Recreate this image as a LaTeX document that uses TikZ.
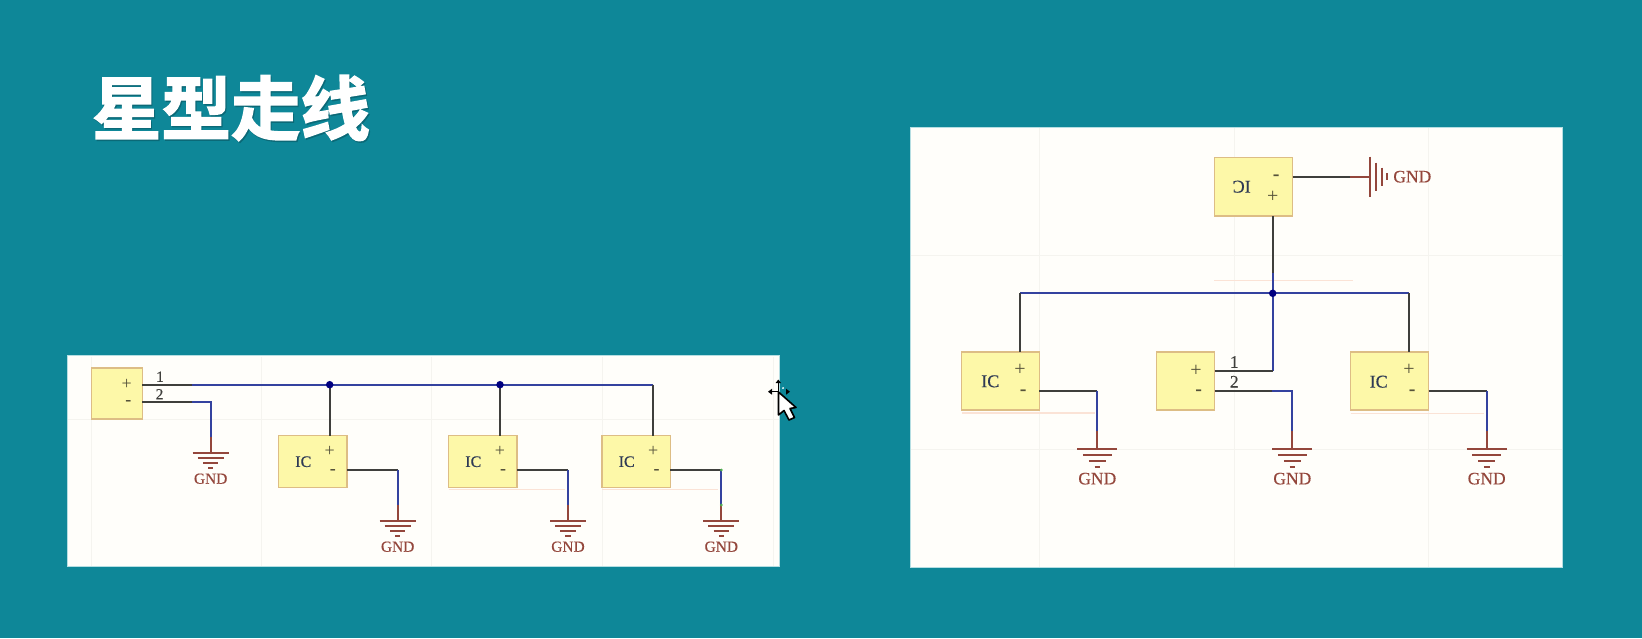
\documentclass[tikz,border=0pt]{standalone}
\usepackage{fontspec}
\setmainfont{Liberation Serif}
\newfontfamily\cjktitle[FakeBold=2.2]{Noto Sans CJK SC Bold}
\newfontfamily\heavyserif[FakeBold=0.35]{Liberation Serif}
\definecolor{bgteal}{HTML}{0E8798}
\definecolor{panel}{HTML}{FFFEFA}
\definecolor{panedge}{HTML}{B5DEE2}
\definecolor{gridc}{HTML}{F5F4EF}
\definecolor{boxfill}{HTML}{FDF8A8}
\definecolor{boxline}{HTML}{DDBD85}
\definecolor{wireb}{HTML}{3F3F3C}
\definecolor{wirev}{HTML}{34429F}
\definecolor{gndred}{HTML}{94473C}
\definecolor{navyj}{HTML}{000080}
\definecolor{pinkl}{HTML}{FBE3D6}
\definecolor{labelc}{HTML}{2E3A55}
\definecolor{pinc}{HTML}{55523A}
\definecolor{dotg}{HTML}{4FB04F}
\tikzset{
  panelbox/.style={fill=panel,draw=panedge,line width=.6pt},
  icbox/.style={draw=boxline,fill=boxfill,line width=1.3pt,anchor=north west,inner sep=0pt,outer sep=0pt},
  blk/.style={draw=wireb,line width=2.1pt,line cap=butt,line join=miter},
  blu/.style={draw=wirev,line width=2.1pt,line cap=butt,line join=miter},
  red/.style={draw=gndred,line width=2.1pt,line cap=butt},
  bar/.style={draw=gndred,line width=2pt},
  gridl/.style={draw=gridc,line width=.8pt},
  pinkrule/.style={draw=pinkl,line width=1.3pt},
  junction/.style={circle,fill=navyj,inner sep=0pt,minimum size=7.5pt},
  iclabel/.style={text=labelc,font=\heavyserif\fontsize{16}{16}\selectfont,inner sep=0pt},
  iclabelb/.style={text=labelc,font=\heavyserif\fontsize{18}{18}\selectfont,inner sep=0pt},
  pinp/.style={text=pinc,font=\fontsize{18}{18}\selectfont,inner sep=0pt},
  pinn/.style={text=pinc,font=\bfseries\fontsize{18}{18}\selectfont,inner sep=0pt},
  pinpb/.style={text=pinc,font=\fontsize{20}{20}\selectfont,inner sep=0pt},
  pinnb/.style={text=pinc,font=\bfseries\fontsize{20}{20}\selectfont,inner sep=0pt},
  numl/.style={text=wireb,font=\heavyserif\fontsize{15.5}{15.5}\selectfont,inner sep=0pt},
  numlb/.style={text=wireb,font=\heavyserif\fontsize{17.5}{17.5}\selectfont,inner sep=0pt},
  gndtxt/.style={text=gndred,inner sep=0pt},
}
% name, x, y of top bar, width, offsets scale, font size
\newcommand{\gndsym}[6]{%
  \coordinate (#1) at (#2,#3);
  \draw[bar] (#2-#4*.5,#3) -- (#2+#4*.5,#3);
  \draw[bar] (#2-#4*.36,#3+5.4*#5) -- (#2+#4*.36,#3+5.4*#5);
  \draw[bar] (#2-#4*.21,#3+10.6*#5) -- (#2+#4*.21,#3+10.6*#5);
  \draw[bar] (#2-#4*.07,#3+15.6*#5) -- (#2+#4*.07,#3+15.6*#5);
  \node[gndtxt,font=\heavyserif\fontsize{#6}{#6}\selectfont] (#1t) at (#2,#3+26*#5) {GND};
}
\begin{document}
\begin{tikzpicture}[x=1pt,y=-1pt]
\fill[bgteal] (0,0) rectangle (1642,638);
\useasboundingbox (0,0) rectangle (1642,638);

% title
\node[text=black!22!bgteal,inner sep=0pt,font=\cjktitle\fontsize{69.5}{70}\selectfont] (titleshadow) at (232.2,109.5) {星型走线};
\node[text=white,inner sep=0pt,font=\cjktitle\fontsize{69.5}{70}\selectfont] (title) at (231,108) {星型走线};

% panels
\path[panelbox] (67.3,355.7) rectangle (779.6,566);
\path[panelbox] (910,127.3) rectangle (1562.6,567);

% grids
\foreach \x in {91.7,261.3,431.7,602.3,773} \draw[gridl] (\x,356.5) -- (\x,565.5);
\draw[gridl] (68,419) -- (779,419);
\foreach \x in {1039.3,1234,1428.7} \draw[gridl] (\x,128) -- (\x,566.5);
\foreach \y in {255,449} \draw[gridl] (910.5,\y) -- (1562,\y);

% pink rules
\draw[pinkrule] (448.7,489.3) -- (565,489.3);
\draw[pinkrule] (602,489.3) -- (718,489.3);
\draw[pinkrule] (1214.3,280.7) -- (1352.7,280.7);
\draw[pinkrule] (961.7,413) -- (1095,413);
\draw[pinkrule] (1350.7,413.3) -- (1484,413.3);

%%% LEFT PANEL
\node[icbox,minimum width=50.6pt,minimum height=51pt] (lsrc) at (91.7,368) {};
\node[icbox,minimum width=68.3pt,minimum height=51.6pt] (lic1) at (278.7,435.7) {};
\node[icbox,minimum width=68.3pt,minimum height=51.6pt] (lic2) at (448.7,435.7) {};
\node[icbox,minimum width=68.3pt,minimum height=51.6pt] (lic3) at (602,435.7) {};

\node[pinp] (lsrcp) at (126.7,384.7) {+};
\node[pinn] (lsrcm) at (128.3,403) {-};
\node[numl] (ln1) at (160,376.7) {1};
\node[numl] (ln2) at (159.5,394.2) {2};
\foreach \n/\lx/\px in {lic1/303.3/329.7,lic2/473.3/500,lic3/626.7/653.3}{
  \node[iclabel] (\n l) at (\lx,461.7) {IC};
  \node[pinp] (\n p) at (\px,451.7) {+};
  \node[pinn] (\n m) at (\px+3.2,471.5) {-};
}

\gndsym{lg0}{210.7}{452.7}{36}{1}{15.4}
\gndsym{lg1}{397.7}{520.7}{36}{1}{15.4}
\gndsym{lg2}{568}{520.7}{36}{1}{15.4}
\gndsym{lg3}{721.3}{520.7}{36}{1}{15.4}

\coordinate (lj1) at (329.7,384.7);
\coordinate (lj2) at (500,384.7);
\coordinate (lk0) at (192.3,384.7);
\coordinate (lk3) at (653.3,384.7);
\coordinate (lm0) at (192.3,402.3);
\coordinate (lc0) at (210.7,402.3);
\coordinate (lr0) at (210.7,436.7);

% top bus
\draw[blk] (lsrc.east |- lk0) -- (lk0);
\draw[blu] (lk0) -- (lk3);
\draw[blk] (lk3) -- (lk3 |- lic3.north);
\draw[blk] (lj1) -- (lj1 |- lic1.north);
\draw[blk] (lj2) -- (lj2 |- lic2.north);
\node[junction] (lj1n) at (lj1) {};
\node[junction] (lj2n) at (lj2) {};
% source return
\draw[blk] (lsrc.east |- lm0) -- (lm0);
\draw[blu] (lm0) -- (lc0) -- (lr0);
\draw[red] (lr0) -- (lg0);
% IC returns
\foreach \n/\g in {lic1/lg1,lic2/lg2,lic3/lg3}{
  \coordinate (\n c) at (\g |- 0,470);
  \coordinate (\n r) at (\g |- 0,505);
  \draw[blk] (\n.east |- \n c) -- (\n c);
  \draw[blu] (\n c) -- (\n r);
  \draw[red] (\n r) -- (\g);
}
\fill[dotg] (lic3c) circle (1.5pt);
\fill[dotg] (lic3r) circle (1.5pt);

% cursor
\draw[black,line width=1.6pt,line join=round,fill=white]
  (778.5,392) -- (778.5,415) -- (784,410.5) -- (789,420) -- (794.5,417.5) -- (790,408.5) -- (796,407.5) -- cycle;
\fill[black] (778.3,379.5) -- (781,383) -- (775.6,383) -- cycle;
\fill[black] (768,391.7) -- (772,388.7) -- (772,394.7) -- cycle;
\fill[black] (790,391.7) -- (786,388.7) -- (786,394.7) -- cycle;
\draw[black,line width=1pt] (771,391.7) -- (778,391.7);
\draw[black,line width=1pt] (778.3,383) -- (778.3,392);
\fill[white] (783,388) circle (1pt);

%%% RIGHT PANEL
\node[icbox,minimum width=78.4pt,minimum height=58.7pt] (rtop) at (1214.3,157.3) {};
\node[icbox,minimum width=77.6pt,minimum height=58pt] (ric1) at (961.7,352) {};
\node[icbox,minimum width=58.4pt,minimum height=58pt] (rsrc) at (1156.3,352) {};
\node[icbox,minimum width=78pt,minimum height=58pt] (ric3) at (1350.7,352) {};

\node[iclabelb,rotate=180] (rtopl) at (1241.7,186.7) {IC};
\node[pinnb] (rtopm) at (1276.3,177.5) {-};
\node[pinpb] (rtopp) at (1272.7,196.7) {+};

\node[iclabelb] (ric1l) at (990.3,381.3) {IC};
\node[pinpb] (ric1p) at (1020,369.7) {+};
\node[pinnb] (ric1m) at (1023.3,392.5) {-};
\node[pinpb] (rsrcp) at (1196,371.3) {+};
\node[pinnb] (rsrcm) at (1198.7,392.5) {-};
\node[numlb] (rn1) at (1234.3,362) {1};
\node[numlb] (rn2) at (1234.3,381.7) {2};
\node[iclabelb] (ric3l) at (1378.7,381.7) {IC};
\node[pinpb] (ric3p) at (1409,370) {+};
\node[pinnb] (ric3m) at (1412.3,392.3) {-};

\gndsym{rg1}{1097.3}{449}{40}{1.14}{17.5}
\gndsym{rg2}{1292.3}{449}{40}{1.14}{17.5}
\gndsym{rg3}{1486.7}{449}{40}{1.14}{17.5}

% top symbol GND (horizontal)
\coordinate (rg0) at (1370,176.7);
\draw[bar] (1370,156.7) -- (1370,196.7);
\draw[bar] (1376,162.7) -- (1376,190.7);
\draw[bar] (1381.5,167.7) -- (1381.5,186);
\draw[bar] (1387,173.3) -- (1387,180);
\node[gndtxt,font=\heavyserif\fontsize{17.5}{17.5}\selectfont] (rg0t) at (1412.3,176.7) {GND};
\coordinate (rw0) at (1350,176.7);
\draw[blk] (rtop.east |- rw0) -- (rw0);
\draw[red] (rw0) -- (rg0);

% star
\coordinate (rj) at (1272.7,293.3);
\coordinate (rv) at (1272.7,273.3);
\coordinate (rcl) at (1020,293.3);
\coordinate (rcr) at (1408.7,293.3);
\coordinate (rs1) at (1272.7,371);
\draw[blk] (rv |- rtop.south) -- (rv);
\draw[blu] (rv) -- (rs1);
\draw[blu] (rcl) -- (rcr);
\draw[blk] (rcl) -- (rcl |- ric1.north);
\draw[blk] (rcr) -- (rcr |- ric3.north);
\draw[blk] (rsrc.east |- rs1) -- (rs1);
\node[junction] (rjn) at (rj) {};

% returns
\coordinate (rc1) at (1097.3,390.7);
\coordinate (rd1) at (1097.3,430.7);
\draw[blk] (ric1.east |- rc1) -- (rc1);
\draw[blu] (rc1) -- (rd1);
\draw[red] (rd1) -- (rg1);
\coordinate (rm2) at (1271.7,390.7);
\coordinate (rc2) at (1292.3,390.7);
\coordinate (rd2) at (1292.3,430.7);
\draw[blk] (rsrc.east |- rm2) -- (rm2);
\draw[blu] (rm2) -- (rc2) -- (rd2);
\draw[red] (rd2) -- (rg2);
\coordinate (rc3) at (1486.7,391);
\coordinate (rd3) at (1486.7,430.7);
\draw[blk] (ric3.east |- rc3) -- (rc3);
\draw[blu] (rc3) -- (rd3);
\draw[red] (rd3) -- (rg3);
\end{tikzpicture}
\end{document}
